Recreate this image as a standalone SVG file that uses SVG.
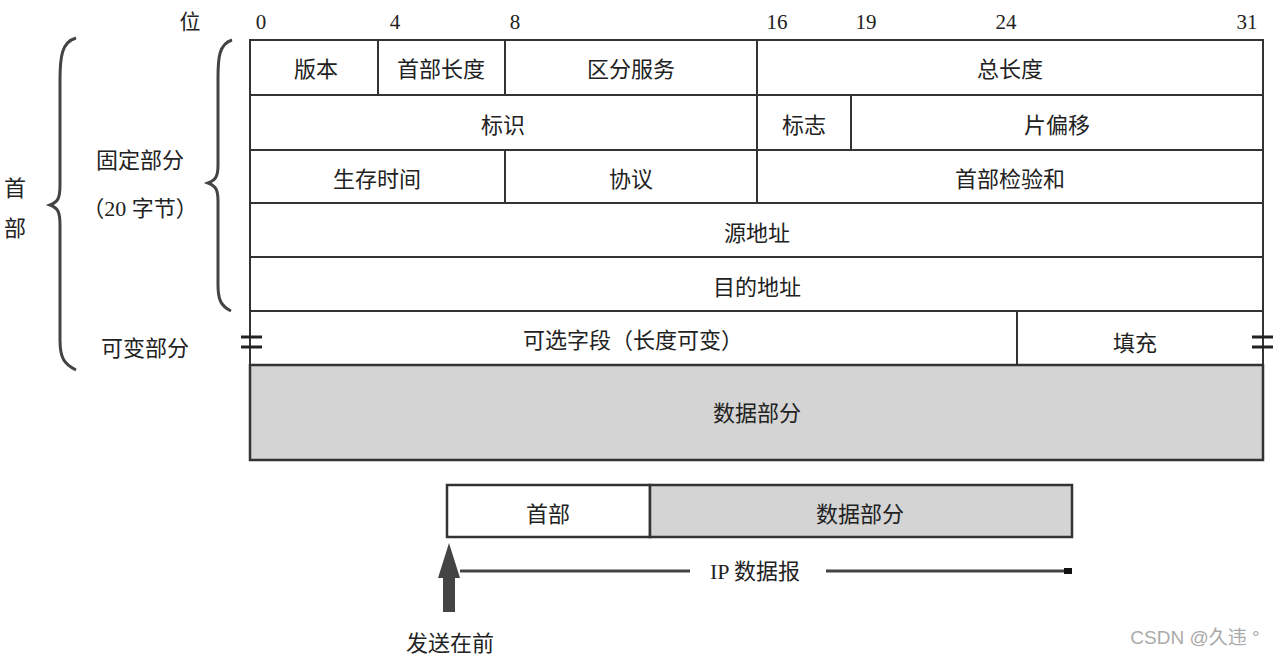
<svg xmlns="http://www.w3.org/2000/svg" width="1280" height="660" viewBox="0 0 1280 660">
<style>
text{font-family:"Liberation Serif","Noto Sans CJK SC",serif;font-size:22px;fill:#222;text-anchor:middle;dominant-baseline:central}
.bit{font-size:21px}
.cell{fill:#fff;stroke:#333;stroke-width:2}
.gray{fill:#d4d4d4;stroke:#333;stroke-width:2.5}
.brace{stroke:#444;stroke-width:3;fill:none}
.wm{font-family:"Liberation Sans","Noto Sans CJK SC",sans-serif;font-size:19px;fill:#aaa}
</style>
<rect width="1280" height="660" fill="#fff"/>
<g id="bits">
<text x="190" y="22" class="bit">位</text>
<text x="261" y="22" class="bit">0</text>
<text x="395" y="22" class="bit">4</text>
<text x="515" y="22" class="bit">8</text>
<text x="777" y="22" class="bit">16</text>
<text x="866" y="22" class="bit">19</text>
<text x="1006" y="22" class="bit">24</text>
<text x="1247" y="22" class="bit">31</text>
</g>
<g id="braces">
<path class="brace" d="M76,38 C62,42 60,56 60,80 L60,185 C60,198 58,202 50,205 C58,208 60,212 60,225 L60,340 C60,358 64,364 76,370"/>
<path class="brace" d="M232,40 C219,44 218,58 218,78 L218,165 C218,176 216,180 208,183 C216,186 218,190 218,201 L218,285 C218,300 221,306 231,311"/>
<text x="15" y="188">首</text>
<text x="15" y="228">部</text>
<text x="140" y="160">固定部分</text>
<text x="140" y="208">（20 字节）</text>
<text x="145" y="348">可变部分</text>
</g>
<g id="row1">
<rect class="cell" x="250" y="40" width="128" height="55"/>
<text x="316" y="69">版本</text>
<rect class="cell" x="378" y="40" width="127" height="55"/>
<text x="441" y="69">首部长度</text>
<rect class="cell" x="505" y="40" width="252" height="55"/>
<text x="631" y="69">区分服务</text>
<rect class="cell" x="757" y="40" width="506" height="55"/>
<text x="1010" y="69">总长度</text>
</g>
<g id="row2">
<rect class="cell" x="250" y="95" width="507" height="55"/>
<text x="503" y="125">标识</text>
<rect class="cell" x="757" y="95" width="94" height="55"/>
<text x="804" y="125">标志</text>
<rect class="cell" x="851" y="95" width="412" height="55"/>
<text x="1057" y="125">片偏移</text>
</g>
<g id="row3">
<rect class="cell" x="250" y="150" width="255" height="53"/>
<text x="377" y="179">生存时间</text>
<rect class="cell" x="505" y="150" width="252" height="53"/>
<text x="631" y="179">协议</text>
<rect class="cell" x="757" y="150" width="506" height="53"/>
<text x="1010" y="179">首部检验和</text>
</g>
<g id="row4">
<rect class="cell" x="250" y="203" width="1013" height="54"/>
<text x="757" y="233">源地址</text>
</g>
<g id="row5">
<rect class="cell" x="250" y="257" width="1013" height="54"/>
<text x="757" y="287">目的地址</text>
</g>
<g id="row6">
<rect class="cell" x="250" y="311" width="767" height="54"/>
<text x="633" y="340">可选字段（长度可变）</text>
<rect class="cell" x="1017" y="311" width="246" height="54"/>
<text x="1135" y="343">填充</text>
<path d="M241,337 H262 M241,347 H262 M1252,337 H1273 M1252,347 H1273" stroke="#222" stroke-width="3"/>
</g>
<g id="data">
<rect class="gray" x="250" y="365" width="1013" height="95"/>
<text x="757" y="413">数据部分</text>
</g>
<g id="dgram-header">
<rect class="cell" x="447" y="485" width="203" height="52" style="stroke-width:2.5"/>
<text x="548" y="514">首部</text>
</g>
<g id="dgram-data">
<rect class="gray" x="650" y="485" width="422" height="52"/>
<text x="860" y="514">数据部分</text>
</g>
<g id="connectors">
<path d="M460,571 H690 M826,571 H1068" stroke="#444" stroke-width="3"/>
<rect x="1064" y="568" width="8" height="6" fill="#111"/>
<text x="755" y="571">IP 数据报</text>
<path d="M443,612 V578 H438 L449,543 L460,578 H455 V612 Z" fill="#444"/>
<text x="450" y="643">发送在前</text>
</g>
<text class="wm" x="1195" y="637">CSDN @久违 °</text>
</svg>
